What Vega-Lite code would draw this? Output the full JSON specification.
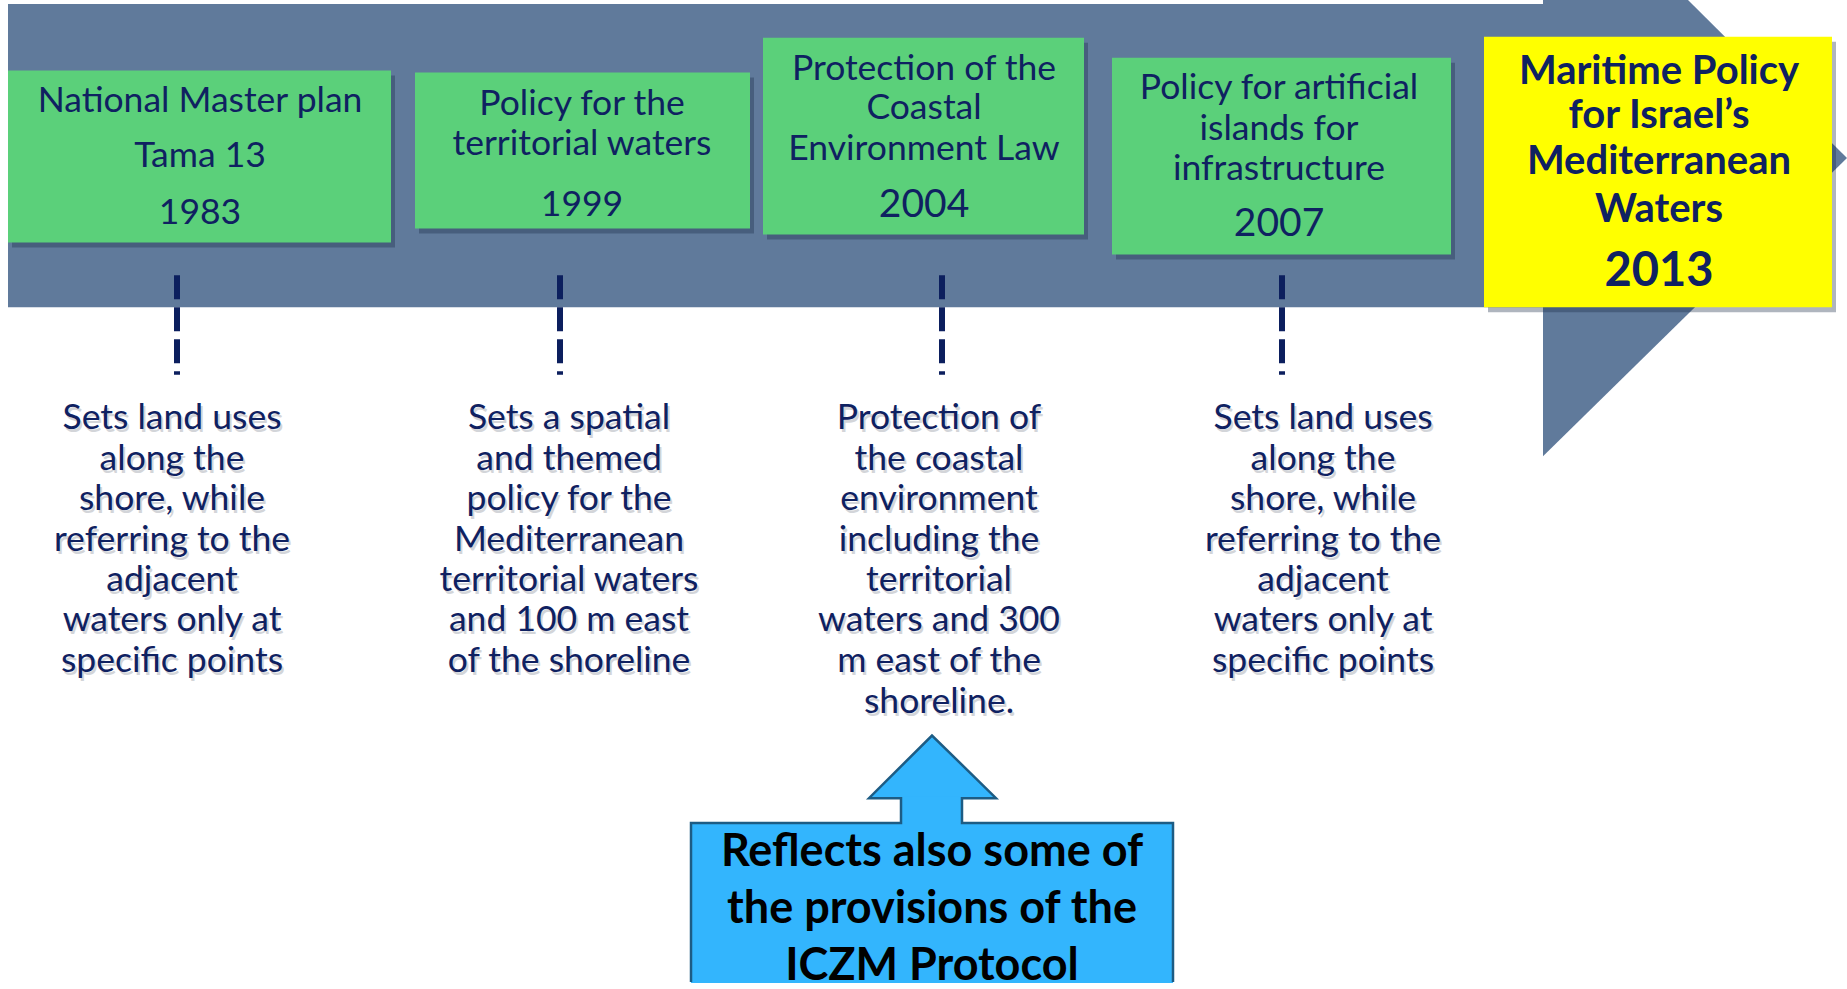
{
  "$schema": "https://vega.github.io/schema/vega-lite/v6.json",
  "width": 1847,
  "height": 989,
  "autosize": {"type": "fit", "contains": "padding"},
  "padding": 0,
  "background": "white",
  "config": {"view": {"stroke": null}, "text": {"font": "Lato"}},
  "datasets": {
    "band": [{"x": 8, "x2": 1543, "y": 4, "y2": 309}],
    "arrowhead": [
      {"x": 1543, "y": 0, "y2": 459},
      {"x": 1688, "y": 0, "y2": 316},
      {"x": 1847, "y": 159, "y2": 159}
    ],
    "dashes": [
      {"x": 177, "y": 277, "y2": 377},
      {"x": 560, "y": 277, "y2": 377},
      {"x": 942, "y": 277, "y2": 377},
      {"x": 1282, "y": 277, "y2": 377}
    ],
    "boxes": [
      {"x": 8, "x2": 391, "y": 71, "y2": 244, "kind": "policy"},
      {"x": 415, "x2": 750, "y": 73, "y2": 230, "kind": "policy"},
      {"x": 763, "x2": 1084, "y": 38, "y2": 236, "kind": "policy"},
      {"x": 1112, "x2": 1451, "y": 58, "y2": 256, "kind": "policy"},
      {"x": 1484, "x2": 1832, "y": 37, "y2": 309, "kind": "maritime"}
    ],
    "labels": [
      {"x": 200, "y": 102, "text": "National Master plan", "role": "t"},
      {"x": 200, "y": 157, "text": "Tama 13", "role": "t"},
      {"x": 200, "y": 214, "text": "1983", "role": "ys"},
      {"x": 582, "y": 105, "text": "Policy for the", "role": "t"},
      {"x": 582, "y": 145, "text": "territorial waters", "role": "t"},
      {"x": 582, "y": 206, "text": "1999", "role": "ys"},
      {"x": 924, "y": 69, "text": "Protection of the", "role": "t"},
      {"x": 924, "y": 109, "text": "Coastal", "role": "t"},
      {"x": 924, "y": 150, "text": "Environment Law", "role": "t"},
      {"x": 924, "y": 206, "text": "2004", "role": "yb"},
      {"x": 1279, "y": 89, "text": "Policy for artificial", "role": "t"},
      {"x": 1279, "y": 130, "text": "islands for", "role": "t"},
      {"x": 1279, "y": 170, "text": "infrastructure", "role": "t"},
      {"x": 1279, "y": 225, "text": "2007", "role": "yb"},
      {"x": 1659, "y": 72, "text": "Maritime Policy", "role": "mt"},
      {"x": 1659, "y": 117, "text": "for Israel’s", "role": "mt"},
      {"x": 1659, "y": 163, "text": "Mediterranean", "role": "mt"},
      {"x": 1659, "y": 211, "text": "Waters", "role": "mt"},
      {"x": 1659, "y": 274, "text": "2013", "role": "my"}
    ],
    "desc": [
      {"x": 172, "y": 421, "text": "Sets land uses"},
      {"x": 172, "y": 462, "text": "along the"},
      {"x": 172, "y": 502, "text": "shore, while"},
      {"x": 172, "y": 543, "text": "referring to the"},
      {"x": 172, "y": 584, "text": "adjacent"},
      {"x": 172, "y": 624, "text": "waters only at"},
      {"x": 172, "y": 665, "text": "specific points"},
      {"x": 569, "y": 421, "text": "Sets a spatial"},
      {"x": 569, "y": 462, "text": "and themed"},
      {"x": 569, "y": 502, "text": "policy for the"},
      {"x": 569, "y": 543, "text": "Mediterranean"},
      {"x": 569, "y": 584, "text": "territorial waters"},
      {"x": 569, "y": 624, "text": "and 100 m east"},
      {"x": 569, "y": 665, "text": "of the shoreline"},
      {"x": 939, "y": 421, "text": "Protection of"},
      {"x": 939, "y": 462, "text": "the coastal"},
      {"x": 939, "y": 502, "text": "environment"},
      {"x": 939, "y": 543, "text": "including the"},
      {"x": 939, "y": 584, "text": "territorial"},
      {"x": 939, "y": 624, "text": "waters and 300"},
      {"x": 939, "y": 665, "text": "m east of the"},
      {"x": 939, "y": 706, "text": "shoreline."},
      {"x": 1323, "y": 421, "text": "Sets land uses"},
      {"x": 1323, "y": 462, "text": "along the"},
      {"x": 1323, "y": 502, "text": "shore, while"},
      {"x": 1323, "y": 543, "text": "referring to the"},
      {"x": 1323, "y": 584, "text": "adjacent"},
      {"x": 1323, "y": 624, "text": "waters only at"},
      {"x": 1323, "y": 665, "text": "specific points"}
    ],
    "calloutHead": [
      {"x": 869, "y": 803, "y2": 803},
      {"x": 932, "y": 740, "y2": 803},
      {"x": 996, "y": 803, "y2": 803}
    ],
    "calloutRects": [
      {"x": 901, "x2": 962, "y": 801, "y2": 830},
      {"x": 691, "x2": 1173, "y": 828, "y2": 989}
    ],
    "calloutOutline": [
      {"k": 1, "x": 691, "y": 988},
      {"k": 2, "x": 691, "y": 828},
      {"k": 3, "x": 901, "y": 828},
      {"k": 4, "x": 901, "y": 803},
      {"k": 5, "x": 869, "y": 803},
      {"k": 6, "x": 932, "y": 740},
      {"k": 7, "x": 996, "y": 803},
      {"k": 8, "x": 962, "y": 803},
      {"k": 9, "x": 962, "y": 828},
      {"k": 10, "x": 1173, "y": 828},
      {"k": 11, "x": 1173, "y": 988}
    ],
    "calloutText": [
      {"x": 932, "y": 857, "text": "Reflects also some of"},
      {"x": 932, "y": 915, "text": "the provisions of the"},
      {"x": 932, "y": 972, "text": "ICZM Protocol"}
    ]
  },
  "encoding": {
    "x": {"field": "x", "type": "quantitative", "scale": {"domain": [0, 1847], "nice": false, "zero": false}, "axis": null},
    "y": {"field": "y", "type": "quantitative", "scale": {"domain": [0, 989], "nice": false, "zero": false, "reverse": true}, "axis": null}
  },
  "layer": [
    {
      "data": {"name": "band"},
      "mark": {"type": "rect", "color": "#607a9b"},
      "encoding": {"x2": {"field": "x2"}, "y2": {"field": "y2"}}
    },
    {
      "data": {"name": "arrowhead"},
      "mark": {"type": "area", "color": "#607a9b", "orient": "vertical"},
      "encoding": {"y2": {"field": "y2"}}
    },
    {
      "data": {"name": "dashes"},
      "mark": {"type": "rule", "color": "#0c1f5e", "strokeWidth": 6, "strokeDash": [24, 8], "strokeCap": "butt"},
      "encoding": {"y2": {"field": "y2"}}
    },
    {
      "data": {"name": "boxes"},
      "mark": {"type": "rect", "color": "#1b2a44", "opacity": 0.35, "xOffset": 4, "x2Offset": 4, "yOffset": 5, "y2Offset": 5},
      "encoding": {"x2": {"field": "x2"}, "y2": {"field": "y2"}}
    },
    {
      "data": {"name": "boxes"},
      "mark": {"type": "rect"},
      "encoding": {
        "x2": {"field": "x2"},
        "y2": {"field": "y2"},
        "fill": {"field": "kind", "type": "nominal", "scale": {"domain": ["policy", "maritime"], "range": ["#5bd07a", "#ffff00"]}, "legend": null}
      }
    },
    {
      "data": {"name": "labels"},
      "transform": [{"filter": "datum.role === 't' || datum.role === 'ys'"}],
      "mark": {"type": "text", "fontSize": 35.5, "color": "#0f2161", "baseline": "middle", "align": "center"},
      "encoding": {"text": {"field": "text"}}
    },
    {
      "data": {"name": "labels"},
      "transform": [{"filter": "datum.role === 'yb'"}],
      "mark": {"type": "text", "fontSize": 39, "color": "#0f2161", "baseline": "middle", "align": "center"},
      "encoding": {"text": {"field": "text"}}
    },
    {
      "data": {"name": "labels"},
      "transform": [{"filter": "datum.role === 'mt'"}],
      "mark": {"type": "text", "fontSize": 40, "fontWeight": "bold", "color": "#0f2161", "baseline": "middle", "align": "center"},
      "encoding": {"text": {"field": "text"}}
    },
    {
      "data": {"name": "labels"},
      "transform": [{"filter": "datum.role === 'my'"}],
      "mark": {"type": "text", "fontSize": 47, "fontWeight": "bold", "color": "#0f2161", "baseline": "middle", "align": "center"},
      "encoding": {"text": {"field": "text"}}
    },
    {
      "data": {"name": "desc"},
      "mark": {"type": "text", "fontSize": 35.5, "color": "#6f7785", "opacity": 0.3, "baseline": "middle", "align": "center", "dx": 2, "dy": 3},
      "encoding": {"text": {"field": "text"}}
    },
    {
      "data": {"name": "desc"},
      "mark": {"type": "text", "fontSize": 35.5, "color": "#0f2161", "baseline": "middle", "align": "center"},
      "encoding": {"text": {"field": "text"}}
    },
    {
      "data": {"name": "calloutHead"},
      "mark": {"type": "area", "color": "#33b5fd", "orient": "vertical", "opacity": 1},
      "encoding": {"y2": {"field": "y2"}}
    },
    {
      "data": {"name": "calloutRects"},
      "mark": {"type": "rect", "color": "#33b5fd"},
      "encoding": {"x2": {"field": "x2"}, "y2": {"field": "y2"}}
    },
    {
      "data": {"name": "calloutOutline"},
      "mark": {"type": "line", "color": "#1d5c84", "strokeWidth": 2.5, "strokeJoin": "miter"},
      "encoding": {"order": {"field": "k", "type": "quantitative"}}
    },
    {
      "data": {"name": "calloutText"},
      "mark": {"type": "text", "fontSize": 45, "fontWeight": "bold", "color": "#000000", "baseline": "middle", "align": "center"},
      "encoding": {"text": {"field": "text"}}
    }
  ]
}
